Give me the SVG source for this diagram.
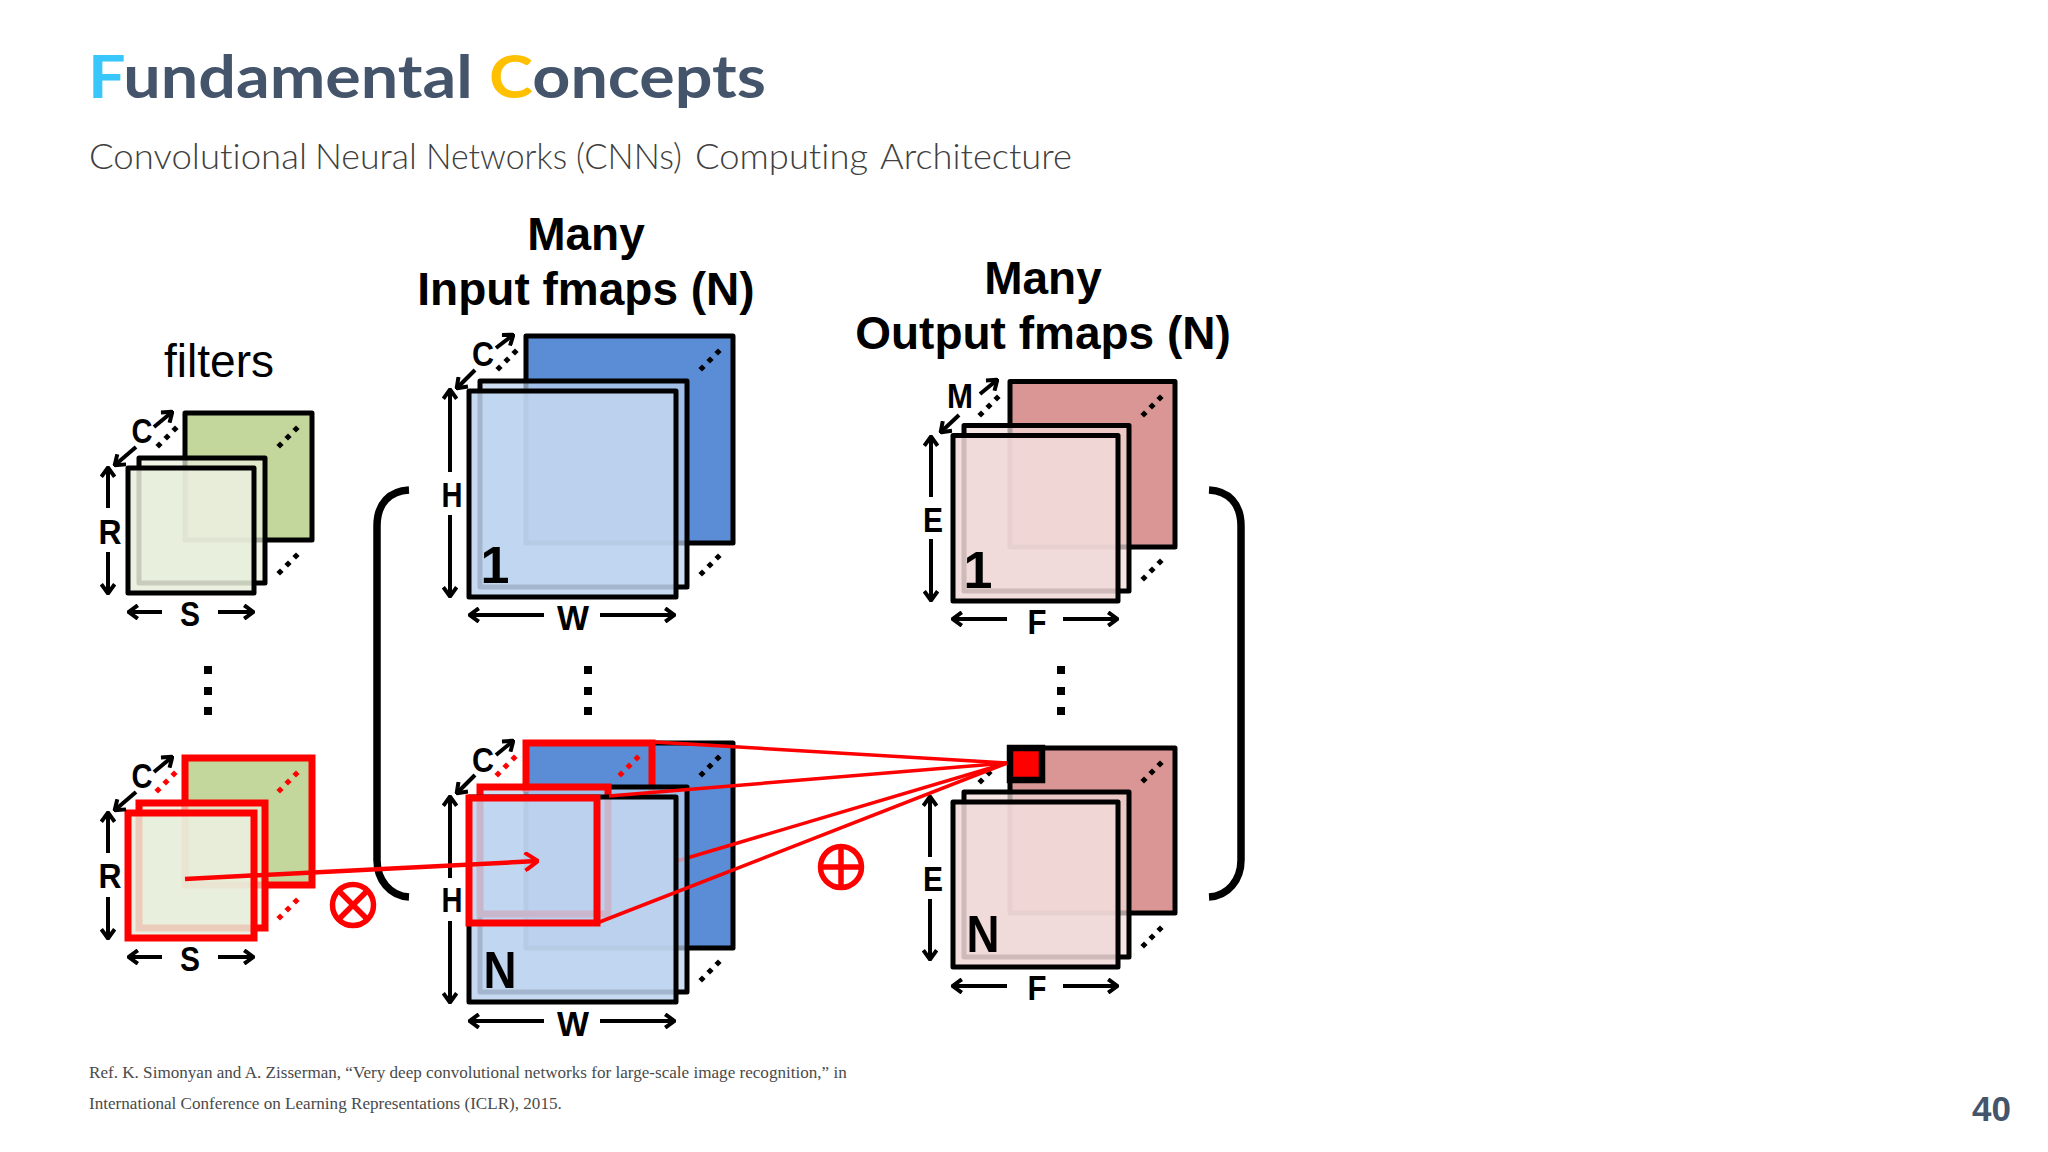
<svg xmlns="http://www.w3.org/2000/svg" width="2048" height="1152" viewBox="0 0 2048 1152">
<style>
text{font-family:"Liberation Sans",Arial,sans-serif;fill:#000}
.lb{font-weight:700;font-size:35px;text-anchor:middle}
.big{font-weight:700;font-size:46px;text-anchor:middle}
.num{font-weight:700;font-size:52px;text-anchor:middle}
.b{stroke:#000;stroke-width:5;stroke-linejoin:round}
.r{fill:none;stroke:#f00;stroke-width:7;stroke-linejoin:miter}
.g1{fill:#c3d69b}.g2{fill:#ebf1dd;fill-opacity:.72}.g3{fill:#e8eedb;fill-opacity:.86}
.bl1{fill:#5a8dd6}.bl2{fill:#bcd2ee;fill-opacity:.72}.bl3{fill:#bfd4ef;fill-opacity:.86}
.p1{fill:#d99694}.p2{fill:#f2dcdb;fill-opacity:.72}.p3{fill:#f0d8d7;fill-opacity:.86}
.a{fill:none;stroke:#000;stroke-width:4;marker-end:url(#ah)}
.rl{fill:none;stroke:#f00;stroke-width:3.5}
.op{fill:none;stroke:#f00;stroke-width:5.5}
.dr{fill:#f00}
.brk{fill:none;stroke:#000;stroke-width:7.5}
.sans{font-family:Lato,"Liberation Sans",sans-serif;font-variant-ligatures:none}
.ref{font-family:"Liberation Serif",serif;font-size:17.1px;fill:#4a4a4a}
</style>
<defs>
<marker id="ah" viewBox="0 0 10 10" refX="9" refY="5" markerUnits="userSpaceOnUse" markerWidth="16" markerHeight="16" orient="auto"><path d="M3.500 0.800L9.300 5L3.500 9.200" fill="none" stroke="#000" stroke-width="2.500"/></marker>
<marker id="rh" viewBox="0 0 10 10" refX="9" refY="5" markerUnits="userSpaceOnUse" markerWidth="20" markerHeight="20" orient="auto"><path d="M3 0.500L9.500 5L3 9.500" fill="none" stroke="#f00" stroke-width="2"/></marker>
<path id="d" d="M0-3.600L3.600 0L0 3.600L-3.600 0Z"/>
<g id="tri"><use href="#d" x="0" y="0"/><use href="#d" x="8" y="-8"/><use href="#d" x="16" y="-16"/></g>
</defs>
<rect width="2048" height="1152" fill="#fff"/>

<g id="title">
<text class="sans" x="88" y="98" font-size="60" style="font-weight:700;fill:#44546a" textLength="678" lengthAdjust="spacingAndGlyphs"><tspan style="fill:#38c6fb">F</tspan>undamental <tspan style="fill:#ffc000">C</tspan>oncepts</text>
<text class="sans" y="169" font-size="35" style="font-weight:300;fill:#404040"><tspan x="89" textLength="218" lengthAdjust="spacingAndGlyphs">Convolutional</tspan> <tspan x="315" textLength="102" lengthAdjust="spacingAndGlyphs">Neural</tspan> <tspan x="426" textLength="141" lengthAdjust="spacingAndGlyphs">Networks</tspan> <tspan x="576" textLength="106" lengthAdjust="spacingAndGlyphs">(CNNs)</tspan> <tspan x="695" textLength="173" lengthAdjust="spacingAndGlyphs">Computing</tspan> <tspan x="880" textLength="192" lengthAdjust="spacingAndGlyphs">Architecture</tspan></text>
</g>

<g id="filters-top">
<text x="219" y="377" font-size="46" text-anchor="middle" textLength="110" lengthAdjust="spacingAndGlyphs">filters</text>
<rect class="g1 b" x="185" y="413" width="127" height="127"/>
<rect class="g2 b" x="139" y="458" width="126" height="125"/>
<rect class="g3 b" x="128" y="468" width="126" height="125"/>
<use href="#tri" x="159" y="445"/><use href="#tri" x="280" y="445"/><use href="#tri" x="280" y="572"/>
<text class="lb" x="142" y="443" textLength="21" lengthAdjust="spacingAndGlyphs">C</text>
<path class="a" d="M154 427L172 412"/><path class="a" d="M136 447L115 465"/>
<text class="lb" x="110" y="544" textLength="23" lengthAdjust="spacingAndGlyphs">R</text>
<path class="a" d="M108 508V468"/><path class="a" d="M108 552V593"/>
<text class="lb" x="190" y="626" textLength="20" lengthAdjust="spacingAndGlyphs">S</text>
<path class="a" d="M162 612H129"/><path class="a" d="M218 612H253"/>
</g>

<g id="filters-bottom">
<rect class="g1 b" x="185" y="758" width="127" height="127"/><rect class="r" x="185" y="758" width="127" height="127"/>
<rect class="g2 b" x="139" y="803" width="126" height="125"/><rect class="r" x="139" y="803" width="126" height="125"/>
<rect class="g3 b" x="128" y="813" width="126" height="125"/><rect class="r" x="128" y="813" width="126" height="125"/>
<use href="#tri" x="158" y="790" class="dr"/><use href="#tri" x="280" y="790" class="dr"/><use href="#tri" x="280" y="917" class="dr"/>
<text class="lb" x="142" y="788" textLength="21" lengthAdjust="spacingAndGlyphs">C</text>
<path class="a" d="M154 772L172 757"/><path class="a" d="M136 792L115 810"/>
<text class="lb" x="110" y="888" textLength="23" lengthAdjust="spacingAndGlyphs">R</text>
<path class="a" d="M108 853V813"/><path class="a" d="M108 897V938"/>
<text class="lb" x="190" y="971" textLength="20" lengthAdjust="spacingAndGlyphs">S</text>
<path class="a" d="M162 957H129"/><path class="a" d="M218 957H253"/>
</g>

<g id="dots-filters"><rect x="204" y="666" width="8" height="8"/><rect x="204" y="687" width="8" height="8"/><rect x="204" y="707" width="8" height="8"/></g>

<g id="input-top">
<text class="big" x="586" y="250">Many</text>
<text class="big" x="586" y="305">Input fmaps (N)</text>
<rect class="bl1 b" x="526" y="336" width="207" height="207"/>
<rect class="bl2 b" x="480" y="381" width="207" height="206"/>
<rect class="bl3 b" x="469" y="391" width="207" height="206"/>
<use href="#tri" x="499" y="368"/><use href="#tri" x="702" y="368"/><use href="#tri" x="702" y="573"/>
<text class="lb" x="483" y="366" textLength="22" lengthAdjust="spacingAndGlyphs">C</text>
<path class="a" d="M496 348L513 335"/><path class="a" d="M475 370L457 388"/>
<text class="lb" x="452" y="507" textLength="21" lengthAdjust="spacingAndGlyphs">H</text>
<path class="a" d="M450 472V390"/><path class="a" d="M450 515V596"/>
<text class="lb" x="573" y="630" textLength="32" lengthAdjust="spacingAndGlyphs">W</text>
<path class="a" d="M544 615H470"/><path class="a" d="M600 615H674"/>
<text class="num" x="495" y="583">1</text>
</g>

<g id="dots-input"><rect x="584" y="666" width="8" height="8"/><rect x="584" y="687" width="8" height="8"/><rect x="584" y="707" width="8" height="8"/></g>

<g id="input-bottom">
<rect class="bl1 b" x="526" y="743" width="207" height="205"/>
<path class="r" d="M526 792V743H652V792"/>
<path class="rl" d="M677 861L1007 763"/>
<rect class="bl2 b" x="480" y="787" width="207" height="205"/>
<path class="r" d="M480 914V787H608V914Z"/>
<rect class="bl3 b" x="469" y="797" width="207" height="205"/>
<rect class="r" x="469" y="798" width="128" height="125"/>
<use href="#tri" x="498" y="774" class="dr"/><use href="#tri" x="621" y="774" class="dr"/><use href="#tri" x="702" y="774"/><use href="#tri" x="702" y="979"/>
<text class="lb" x="483" y="772" textLength="22" lengthAdjust="spacingAndGlyphs">C</text>
<path class="a" d="M496 755L513 741"/><path class="a" d="M475 775L457 793"/>
<text class="lb" x="452" y="912" textLength="21" lengthAdjust="spacingAndGlyphs">H</text>
<path class="a" d="M450 878V797"/><path class="a" d="M450 921V1002"/>
<text class="lb" x="573" y="1036" textLength="32" lengthAdjust="spacingAndGlyphs">W</text>
<path class="a" d="M544 1021H470"/><path class="a" d="M600 1021H674"/>
<text class="num" x="500" y="988" textLength="33" lengthAdjust="spacingAndGlyphs">N</text>
</g>

<g id="output-top">
<text class="big" x="1043" y="294">Many</text>
<text class="big" x="1043" y="349">Output fmaps (N)</text>
<rect class="p1 b" x="1010" y="381.500" width="165" height="165.500"/>
<rect class="p2 b" x="964" y="425.500" width="165" height="165.500"/>
<rect class="p3 b" x="953" y="435.500" width="165" height="165.500"/>
<use href="#tri" x="981" y="414"/><use href="#tri" x="1144" y="414"/><use href="#tri" x="1144" y="578"/>
<text class="lb" x="960" y="408" textLength="26" lengthAdjust="spacingAndGlyphs">M</text>
<path class="a" d="M980 394L997 380"/><path class="a" d="M959 415L941 432"/>
<text class="lb" x="933" y="532" textLength="20" lengthAdjust="spacingAndGlyphs">E</text>
<path class="a" d="M931 497V437"/><path class="a" d="M931 539V600"/>
<text class="lb" x="1037" y="634" textLength="19" lengthAdjust="spacingAndGlyphs">F</text>
<path class="a" d="M1007 619H953"/><path class="a" d="M1063 619H1117"/>
<text class="num" x="978" y="588">1</text>
</g>

<g id="dots-output"><rect x="1057" y="666" width="8" height="8"/><rect x="1057" y="687" width="8" height="8"/><rect x="1057" y="707" width="8" height="8"/></g>

<g id="output-bottom">
<rect class="p1 b" x="1010" y="748" width="165" height="165"/>
<rect class="p2 b" x="964" y="792" width="165" height="165"/>
<rect class="p3 b" x="953" y="802" width="165" height="165"/>
<use href="#tri" x="981" y="781"/><use href="#tri" x="1144" y="780"/><use href="#tri" x="1144" y="945"/>
<rect x="1010" y="748" width="32" height="32" fill="#f00" stroke="#000" stroke-width="6.500"/>
<text class="lb" x="933" y="891" textLength="20" lengthAdjust="spacingAndGlyphs">E</text>
<path class="a" d="M930 857V797"/><path class="a" d="M930 899V959"/>
<text class="lb" x="1037" y="1000" textLength="19" lengthAdjust="spacingAndGlyphs">F</text>
<path class="a" d="M1007 986H953"/><path class="a" d="M1063 986H1117"/>
<text class="num" x="983" y="952" textLength="33" lengthAdjust="spacingAndGlyphs">N</text>
</g>

<g id="brackets">
<path class="brk" d="M409 490C390 491 377 503 377 526V860C377 880 390 896 409 897"/>
<path class="brk" d="M1209 490C1228 491 1241 503 1241 526V860C1241 880 1228 896 1209 897"/>
</g>

<g id="ops">
<g id="otimes"><circle class="op" cx="353" cy="905" r="20.500"/><path class="op" d="M338.500 890.500L367.500 919.500M367.500 890.500L338.500 919.500"/></g>
<g id="oplus"><circle class="op" cx="841" cy="867" r="20.500"/><path class="op" d="M841 846.500V887.500M820.500 867H861.500"/></g>
</g>

<g id="connectors">
<path class="rl" d="M654 742L1007 763"/>
<path class="rl" d="M609 796L1007 763"/>
<path class="rl" d="M597 923L1007 763"/>
<path d="M185 879L537 861" fill="none" stroke="#f00" stroke-width="4.500" marker-end="url(#rh)"/>
</g>

<g id="footer">
<text class="ref" x="89" y="1078">Ref. K. Simonyan and A. Zisserman, “Very deep convolutional networks for large-scale image recognition,” in</text>
<text class="ref" x="89" y="1109">International Conference on Learning Representations (ICLR), 2015.</text>
<text x="2011" y="1121" font-size="35" text-anchor="end" style="font-weight:700;fill:#44546a">40</text>
</g>
</svg>
